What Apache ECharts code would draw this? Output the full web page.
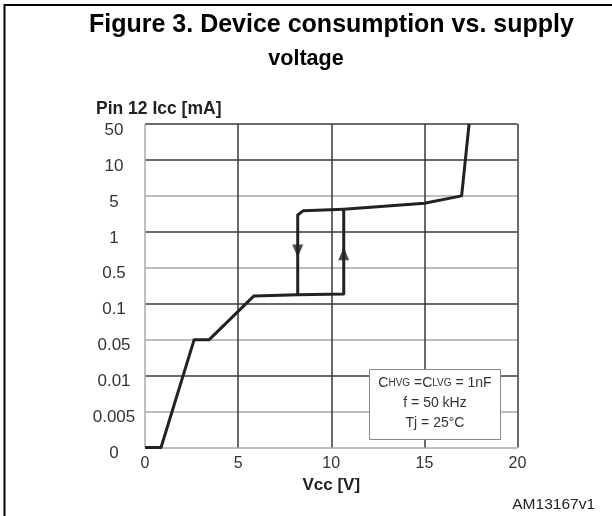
<!DOCTYPE html>
<html>
<head>
<meta charset="utf-8">
<script src="https://cdn.jsdelivr.net/npm/echarts@6/dist/echarts.min.js"></script>
<style>
  html, body { margin: 0; padding: 0; background: #fff; }
  #chart { width: 612px; height: 516px; }
</style>
</head>
<body>
<div id="chart"></div>
<script>
// y ticks are evenly spaced, not a true scale
const yTickValues = [0, 0.005, 0.01, 0.05, 0.1, 0.5, 1, 5, 10, 50];
const yTickLabels = ['0', '0.005', '0.01', '0.05', '0.1', '0.5', '1', '5', '10', '50'];
const xTicks = [0, 5, 10, 15, 20];

// Vcc [V], Icc [mA] - rising branch then the top part
const riseVcc = [0, 0.86, 2.64, 3.45, 5.85, 8.2, 10.67, 10.67, 15, 17, 17.4];
const riseIcc = [0, 0, 0.05, 0.05, 0.142, 0.15, 0.155, 2.75, 3.6, 5, 50];
// falling branch (hysteresis)
const fallVcc = [10.67, 8.5, 8.2, 8.2];
const fallIcc = [2.75, 2.58, 2.13, 0.15];
// arrows on the two vertical lines
const arrowVcc = [8.2, 10.67];
const arrowIcc = [0.69, 0.655];
const arrowRotate = [180, 0];

// position on the evenly spaced axis
function toPos(v) {
  if (v <= 0) return 0;
  for (let i = 0; i < yTickValues.length - 1; i++) {
    const a = yTickValues[i];
    const b = yTickValues[i + 1];
    if (v <= b) {
      if (a === 0) return v / b;
      return i + Math.log(v / a) / Math.log(b / a);
    }
  }
  return yTickValues.length - 1;
}

const font = 'Liberation Sans, Arial, sans-serif';
const dark = '#3a3a3a';
const light = '#a8a8a8';

const chart = echarts.init(document.getElementById('chart'));
chart.setOption({
  animation: false,
  backgroundColor: '#fff',
  textStyle: { fontFamily: font },
  title: [
    {
      text: 'Figure 3. Device consumption vs. supply',
      left: 89,
      top: 13,
      padding: 0,
      textStyle: { fontSize: 25, fontWeight: 'bold', color: '#000', fontFamily: font },
    },
    {
      text: 'voltage',
      left: 'center',
      top: 48,
      padding: 0,
      textStyle: { fontSize: 21.5, fontWeight: 'bold', color: '#000', fontFamily: font },
    },
    {
      text: 'Pin 12 Icc [mA]',
      left: 96,
      top: 100,
      padding: 0,
      textStyle: { fontSize: 17.5, fontWeight: 'bold', color: '#222', fontFamily: font },
    },
    {
      text: 'AM13167v1',
      right: 17,
      top: 497,
      padding: 0,
      textStyle: { fontSize: 15.5, fontWeight: 'normal', color: '#222', fontFamily: font },
    },
  ],
  grid: {
    left: 145,
    right: 94.5,
    top: 124,
    bottom: 68.5,
  },
  xAxis: {
    type: 'value',
    min: 0,
    max: 20,
    interval: 5,
    name: 'Vcc [V]',
    nameLocation: 'middle',
    nameGap: 28,
    nameTextStyle: { fontSize: 17, fontWeight: 'bold', color: '#222', fontFamily: font },
    axisLine: { show: false },
    axisTick: { show: false },
    axisLabel: {
      margin: 8,
      fontSize: 16,
      color: '#333',
      fontFamily: font,
      formatter: (v) => (xTicks.indexOf(v) >= 0 ? String(v) : ''),
    },
    splitLine: {
      show: true,
      lineStyle: { color: [light, dark, dark, dark, dark], width: 1.5 },
    },
  },
  yAxis: {
    type: 'value',
    min: 0,
    max: 9,
    interval: 1,
    axisLine: { show: false },
    axisTick: { show: false },
    axisLabel: {
      margin: 31,
      align: 'center',
      verticalAlign: 'top',
      lineHeight: 12,
      fontSize: 17,
      color: '#333',
      fontFamily: font,
      formatter: (v) => yTickLabels[v],
    },
    splitLine: {
      show: true,
      lineStyle: {
        color: [light, light, dark, light, dark, light, dark, light, dark, dark],
        width: 1.5,
      },
    },
  },
  series: [
    {
      type: 'line',
      data: riseVcc.map((x, i) => [x, toPos(riseIcc[i])]),
      showSymbol: false,
      lineStyle: { color: '#222', width: 3, join: 'round' },
      z: 3,
    },
    {
      type: 'line',
      data: fallVcc.map((x, i) => [x, toPos(fallIcc[i])]),
      showSymbol: false,
      lineStyle: { color: '#222', width: 3, join: 'round' },
      z: 3,
    },
    {
      type: 'scatter',
      data: arrowVcc.map((x, i) => ({
        value: [x, toPos(arrowIcc[i])],
        symbolRotate: arrowRotate[i],
      })),
      symbol: 'triangle',
      symbolSize: [11, 13],
      itemStyle: { color: '#222' },
      z: 4,
    },
  ],
  graphic: [
    {
      type: 'rect',
      shape: { x: 4.5, y: 5, width: 700, height: 600 },
      style: { fill: 'none', stroke: '#000', lineWidth: 2 },
      silent: true,
    },
    {
      type: 'rect',
      z: 100,
      shape: { x: 369.5, y: 369.5, width: 131, height: 70 },
      style: { fill: '#fff', stroke: '#888', lineWidth: 1 },
    },
    {
      type: 'text',
      z: 101,
      x: 435,
      y: 403,
      style: {
        text: '{n|C}{s|HVG}{n| =C}{s|LVG}{n| = 1nF}\n{n|f = 50 kHz}\n{n|Tj = 25°C}',
        align: 'center',
        verticalAlign: 'middle',
        fill: '#333',
        fontFamily: font,
        fontSize: 14,
        rich: {
          n: { fontSize: 14, fill: '#333', fontFamily: font, lineHeight: 20 },
          s: { fontSize: 10, fill: '#333', fontFamily: font, lineHeight: 20 },
        },
      },
    },
  ],
});
</script>
</body>
</html>
